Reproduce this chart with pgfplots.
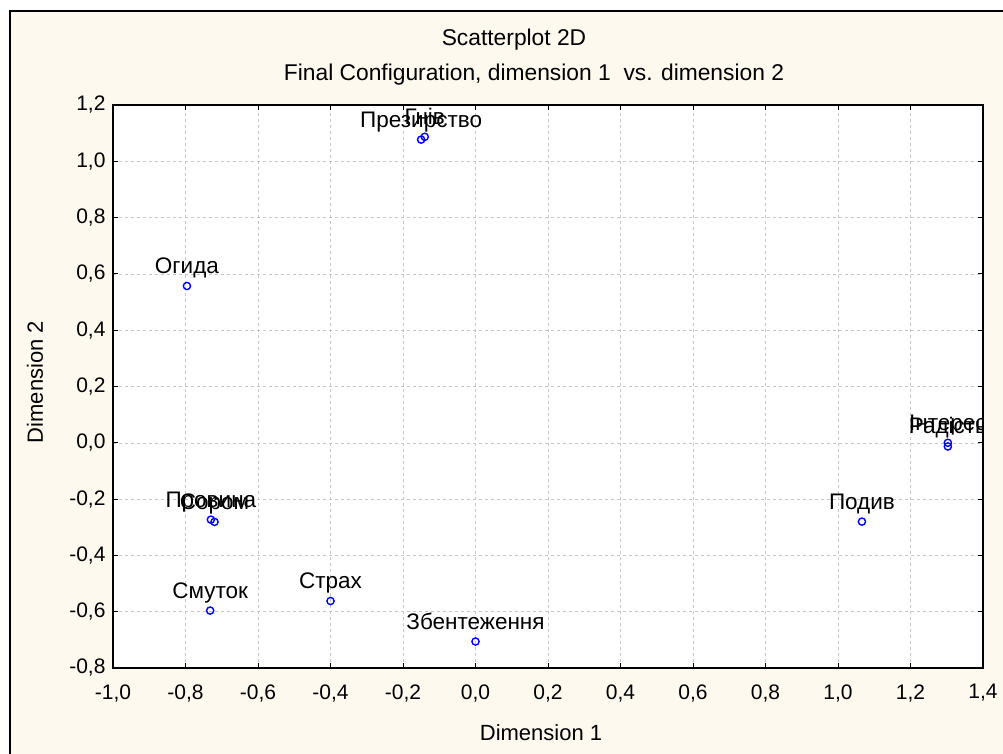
\documentclass[border=0pt]{standalone}
\usepackage{pgfplots}
\pgfplotsset{compat=1.18}
\usepackage{fontspec}
\setmainfont{Liberation Sans}
\definecolor{cream}{RGB}{253,249,238}
\definecolor{ptblue}{RGB}{0,0,255}
\begin{document}
\begin{tikzpicture}[font=\fontsize{22}{26}\selectfont]
\useasboundingbox (0,0) rectangle (1003pt,753pt);
\fill[cream] (10pt,-5pt) rectangle (1010pt,742pt);
\draw[black, line width=1.2pt] (10pt,-5pt) rectangle (1010pt,742pt);
\node[font=\fontsize{22.8}{26}\selectfont] at (514pt,713pt) {Scatterplot 2D};
\node[font=\fontsize{22.8}{26}\selectfont] at (534pt,678pt) {Final Configuration, dimension 1\ \ vs. dimension 2};
\node at (541pt,20pt) {Dimension 1};
\node[rotate=90] at (35pt,371pt) {Dimension 2};
\begin{axis}[
  at={(113pt,85pt)}, anchor=south west,
  scale only axis, width=870pt, height=563pt,
  xmin=-1, xmax=1.4, ymin=-0.8, ymax=1.2,
  xtick={-1,-0.8,-0.6,-0.4,-0.2,0,0.2,0.4,0.6,0.8,1,1.2,1.4},
  ytick={-0.8,-0.6,-0.4,-0.2,0,0.2,0.4,0.6,0.8,1,1.2},
  grid=major,
  major grid style={dashed, gray!45, line width=0.5pt},
  tick align=inside,
  major tick length=5pt,
  tick style={black, line width=1pt},
  axis line style={black, line width=1.3pt},
  axis background/.style={fill=white},
  /pgf/number format/.cd, use comma, fixed, fixed zerofill, precision=1, assume math mode=true,
  /pgfplots/.cd,
  tick label style={font=\fontsize{21}{25}\selectfont},
  xticklabel style={yshift=-13pt},
  yticklabel style={xshift=-4pt},
  clip mode=global,
]
\addplot[only marks, mark=o, draw=ptblue, mark size=3.6pt, line width=1.4pt,
  nodes near coords, point meta=explicit symbolic,
  nodes near coords style={black, anchor=base, yshift=12.5pt, inner sep=0pt, font=\fontsize{22.5}{26}\selectfont}]
  table[meta=label, row sep=\\] {
x y label\\
-0.14 1.087 Гнів\\
-0.15 1.077 Презирство\\
-0.796 0.557 Огида\\
1.303 0.0 Інтерес\\
1.303 -0.013 Радість\\
1.066 -0.280 Подив\\
-0.73 -0.273 Провина\\
-0.72 -0.281 Сором\\
-0.732 -0.596 Смуток\\
-0.40 -0.562 Страх\\
0.0 -0.706 Збентеження\\
};
\end{axis}
\fill[cream] (983.8pt,95pt) rectangle (1003pt,640pt);
\end{tikzpicture}
\end{document}
